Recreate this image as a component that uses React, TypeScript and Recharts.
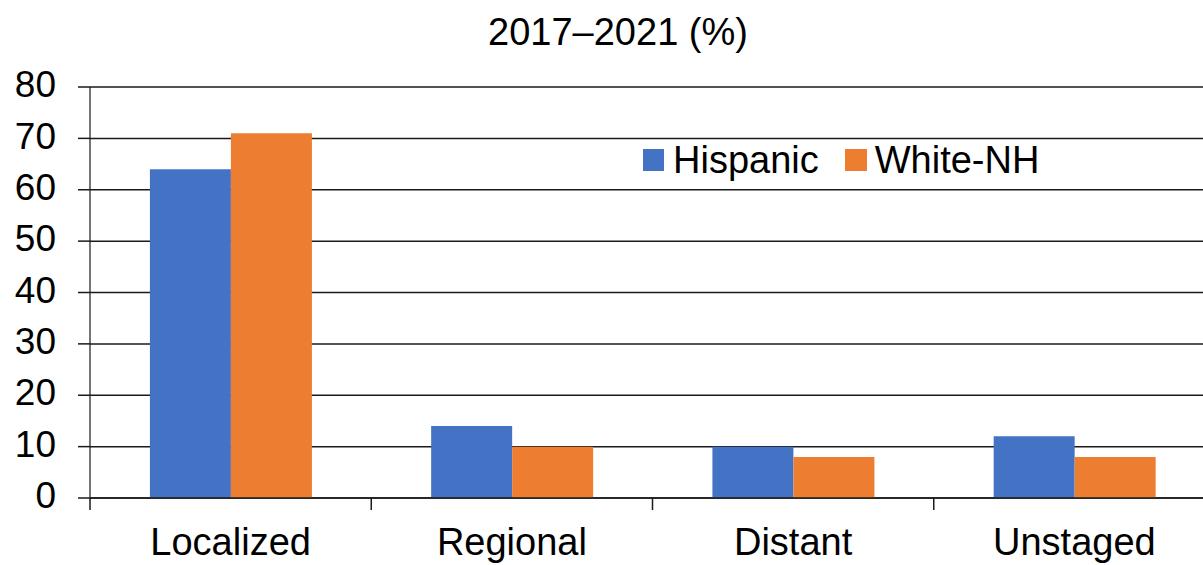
import { BarChart, Bar, XAxis, YAxis, CartesianGrid, Legend } from "recharts";

const categories = ["Localized", "Regional", "Distant", "Unstaged"];
const hispanic = [64, 14, 10, 12];
const whiteNH = [71, 10, 8, 8];
const yTicks = [0, 10, 20, 30, 40, 50, 60, 70, 80];

const data = categories.map((stage, i) => ({
  stage,
  hispanic: hispanic[i],
  white: whiteNH[i],
}));

const FONT = "'Liberation Sans', Arial, sans-serif";
const BLUE = "#4472C4";
const ORANGE = "#ED7D31";
const AXIS = "#1a1a1a";

// plot runs 90 -> 1215, so each category band is ~281px wide
const BAND = 1125 / categories.length;

const StageTick = (props: any) => {
  const { x, y, payload } = props;
  const half = payload && payload.offset ? payload.offset : BAND / 2;
  const left = x - half;
  return (
    <g>
      <line x1={left} x2={left} y1={y - 12} y2={y} stroke={AXIS} strokeWidth={1.5} />
      <text
        x={x}
        y={y + 45}
        textAnchor="middle"
        fill="#000"
        fontSize={38}
        fontFamily={FONT}
      >
        {payload.value}
      </text>
    </g>
  );
};

const LegendBox = () => (
  <div
    style={{
      display: "flex",
      alignItems: "center",
      fontFamily: FONT,
      fontSize: 38,
      color: "#000",
      lineHeight: "38px",
    }}
  >
    <span style={{ width: 21, height: 22, background: BLUE, marginRight: 9 }} />
    <span style={{ marginRight: 26 }}>Hispanic</span>
    <span style={{ width: 22, height: 22, background: ORANGE, marginRight: 8 }} />
    <span>White-NH</span>
  </div>
);

export default function App() {
  return (
    <div
      style={{
        position: "absolute",
        left: 0,
        top: 0,
        width: 1203,
        height: 565,
        overflow: "hidden",
        background: "#fff",
      }}
    >
      <div
        style={{
          position: "absolute",
          left: 0,
          width: 1236,
          top: 13,
          textAlign: "center",
          fontFamily: FONT,
          fontSize: 38,
          lineHeight: "38px",
          color: "#000",
        }}
      >
        2017–2021 (%)
      </div>
      <BarChart
        width={1220}
        height={565}
        data={data}
        margin={{ top: 87, right: 5, left: 0, bottom: 0 }}
        barCategoryGap="21.3%"
        barGap={0}
      >
        <CartesianGrid vertical={false} stroke={AXIS} strokeWidth={1.5} />
        <XAxis
          dataKey="stage"
          height={67}
          axisLine={{ stroke: AXIS, strokeWidth: 1.5 }}
          tickLine={false}
          tickSize={12}
          tickMargin={0}
          tick={<StageTick />}
          interval={0}
        />
        <YAxis
          width={90}
          domain={[0, 80]}
          ticks={yTicks}
          interval={0}
          axisLine={{ stroke: AXIS, strokeWidth: 1.2 }}
          tickLine={{ stroke: AXIS, strokeWidth: 1.5 }}
          tickSize={12}
          tickMargin={22}
          tick={{ fill: "#000", fontSize: 37, fontFamily: FONT, dy: -3 }}
        />
        <Legend
          layout="horizontal"
          verticalAlign="middle"
          align="center"
          content={<LegendBox />}
          wrapperStyle={{ position: "absolute", left: 643, top: 141, width: "auto" }}
        />
        <Bar dataKey="hispanic" name="Hispanic" fill={BLUE} isAnimationActive={false} />
        <Bar dataKey="white" name="White-NH" fill={ORANGE} isAnimationActive={false} />
      </BarChart>
    </div>
  );
}
